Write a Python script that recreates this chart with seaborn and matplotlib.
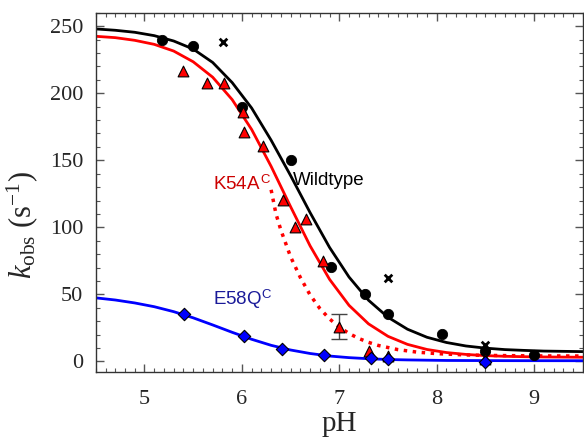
import matplotlib
matplotlib.use("Agg")
import matplotlib.pyplot as plt
from matplotlib.ticker import MultipleLocator
import seaborn as sns
import pandas as pd

# --- measured points ---
wt_ph = [5.18, 5.5, 6.0, 6.5, 6.91, 7.26, 7.5, 8.05, 8.5, 9.0]
wt_k = [240, 235, 190, 150, 70.7, 50.6, 35.7, 20.8, 8, 5]

wt_x_ph = [5.81, 7.5, 8.5]
wt_x_k = [238, 62, 12]

k54_ph = [5.4, 5.64, 5.82, 6.01, 6.02, 6.22, 6.42, 6.55, 6.66, 6.83, 7.3, 7.5, 8.5]
k54_k = [216.5, 207.6, 207.6, 186, 171, 160.7, 120.5, 100, 106, 75, 7.4, 3.7, 2]

k54_err_ph = [7.0]
k54_err_k = [26]
k54_err = [9]

e58_ph = [5.41, 6.02, 6.41, 6.84, 7.33, 7.5, 8.5]
e58_k = [35, 18.6, 8.9, 4.5, 2.2, 2.0, -0.5]

# --- fitted curves ---
curve_ph = [4.5, 4.7, 4.9, 5.1, 5.3, 5.5, 5.7, 5.9, 6.1, 6.3, 6.5, 6.7, 6.9,
            7.1, 7.3, 7.5, 7.7, 7.9, 8.1, 8.3, 8.5, 8.7, 8.9, 9.1, 9.3, 9.5]
wt_fit = [248, 247, 245.5, 243, 239, 233, 223, 208, 189, 165, 138.6, 111,
          85, 62.9, 45.6, 32.9, 24, 18, 14.1, 11.5, 9.9, 8.8, 8.2, 7.7, 7.5, 7.3]
k54_fit = [242.5, 241.5, 239.5, 236.5, 231.5, 223.5, 212, 195.3, 173, 145.5,
           115.4, 86.2, 61.2, 41.8, 28, 18.7, 12.7, 8.9, 6.6, 5.2, 4.3, 3.8,
           3.5, 3.3, 3.2, 3.1]
e58_fit = [47.4, 45.8, 43.6, 40.8, 37.1, 32.5, 27.2, 21.7, 16.5, 12.0, 8.5,
           5.9, 4.0, 2.8, 2.0, 1.4, 1.1, 0.9, 0.7, 0.65, 0.6, 0.55, 0.53,
           0.52, 0.51, 0.5]

dot_ph = [6.3, 6.35, 6.4, 6.5, 6.6, 6.7, 6.8, 6.9, 7.0, 7.1, 7.2, 7.3, 7.4,
          7.6, 7.8, 8.0, 8.3, 8.6, 9.0, 9.5]
dot_k = [128, 110, 98, 78, 62.6, 49.6, 39.5, 31.7, 25.6, 20.8, 17.1, 14.2,
         11.9, 8.8, 6.9, 5.8, 4.8, 4.4, 4.1, 4.0]

sns.set_style("ticks")
plt.rcParams["font.family"] = ["Liberation Serif", "DejaVu Serif"]
plt.rcParams["mathtext.fontset"] = "custom"
plt.rcParams["mathtext.rm"] = "Liberation Serif"
plt.rcParams["mathtext.it"] = "Liberation Serif:italic"
plt.rcParams["mathtext.sf"] = "Liberation Sans"

fig = plt.figure(figsize=(5.84, 4.43), dpi=100)
ax = fig.add_axes([0.164, 0.160, 0.834, 0.811])

df_curves = pd.DataFrame({"pH": curve_ph, "wt": wt_fit, "k54": k54_fit, "e58": e58_fit})
sns.lineplot(data=df_curves, x="pH", y="wt", color="black", linewidth=2, ax=ax)
sns.lineplot(data=df_curves, x="pH", y="k54", color="#ff0000", linewidth=2, ax=ax)
sns.lineplot(data=df_curves, x="pH", y="e58", color="#0000ff", linewidth=2, ax=ax)
sns.lineplot(x=dot_ph, y=dot_k, color="#ff0000", linewidth=2.5, linestyle=(0, (1, 1.6)), ax=ax)

ax.errorbar(k54_err_ph, k54_err_k, yerr=k54_err, fmt="none", ecolor="#444444",
            elinewidth=1, capsize=6, capthick=1, zorder=3)

sns.scatterplot(x=wt_ph, y=wt_k, marker="o", s=55, color="black", edgecolor="black", zorder=5, ax=ax)
sns.scatterplot(x=wt_x_ph, y=wt_x_k, marker="x", s=30, color="black", linewidth=2, zorder=5, ax=ax)
sns.scatterplot(x=k54_ph + k54_err_ph, y=k54_k + k54_err_k, marker="^", s=60,
                color="#ff0000", edgecolor="black", linewidth=0.8, zorder=6, ax=ax)
sns.scatterplot(x=e58_ph, y=e58_k, marker="D", s=40, color="#0000ff",
                edgecolor="black", linewidth=0.8, zorder=6, ax=ax)

ax.text(6.52, 135, "Wildtype", color="black", fontsize=13.5, family="Liberation Sans", va="center")
ax.text(5.7, 132, "K54A$^{\\,\\mathsf{C}}$", color="#cc0000", fontsize=13.5, family="Liberation Sans", va="center")
ax.text(5.7, 46, "E58Q$^{\\mathsf{C}}$", color="#1a1a99", fontsize=13.5, family="Liberation Sans", va="center")

ax.set_xlim(4.5, 9.5)
ax.set_ylim(-8, 260)
ax.xaxis.set_major_locator(MultipleLocator(1))
ax.xaxis.set_minor_locator(MultipleLocator(0.1))
ax.yaxis.set_major_locator(MultipleLocator(50))
ax.yaxis.set_minor_locator(MultipleLocator(10))
ax.tick_params(which="both", direction="in", top=True, right=True, color="#555555")
ax.tick_params(which="major", length=6, width=1, labelsize=16)
ax.tick_params(axis="x", which="major", pad=13)
ax.tick_params(axis="y", which="major", pad=9)
ax.tick_params(which="minor", length=3, width=0.8)
for sp in ax.spines.values():
    sp.set_linewidth(1)
    sp.set_color("#333333")

ax.set_xlabel("pH", fontsize=21, labelpad=1)
ax.set_ylabel("$k_{\\mathrm{obs}}$ (s$^{\\mathrm{-1}}$)", fontsize=22)
ax.yaxis.set_label_coords(-0.115, 0.41)

fig.savefig("out.png", dpi=100)
